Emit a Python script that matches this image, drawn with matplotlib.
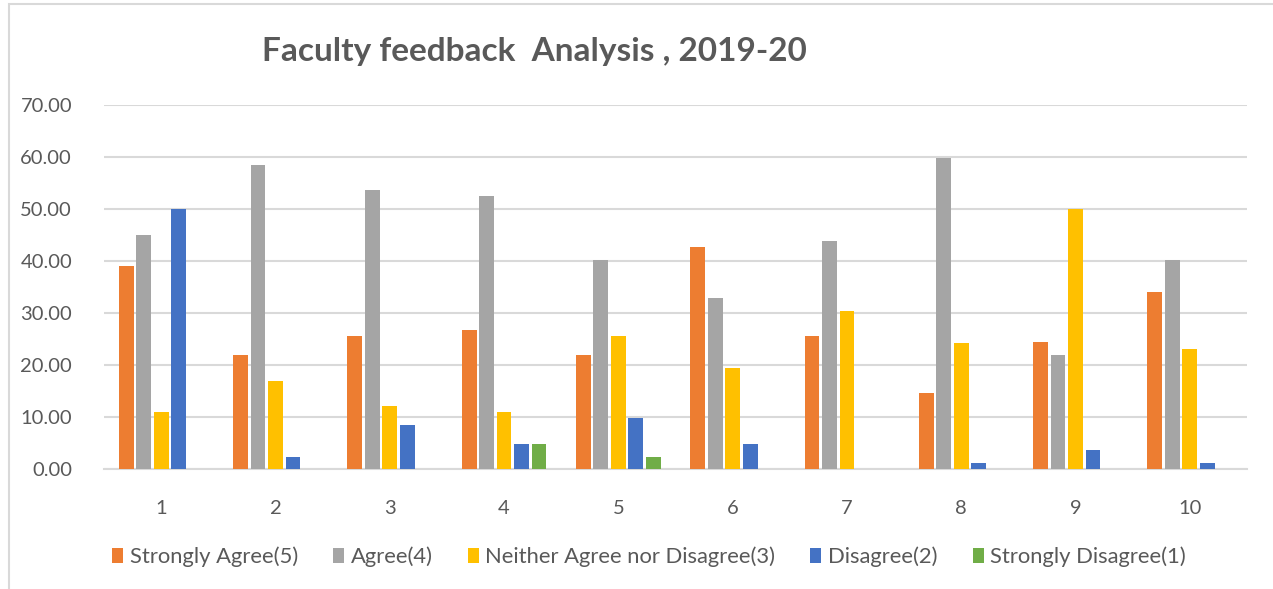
import matplotlib
matplotlib.use("Agg")
import matplotlib.pyplot as plt
import numpy as np
from matplotlib.patches import Rectangle

# data
questions = ["1", "2", "3", "4", "5", "6", "7", "8", "9", "10"]
strongly_agree = [39.0, 22.0, 25.6, 26.8, 22.0, 42.7, 25.6, 14.7, 24.5, 34.1]
agree = [45.0, 58.5, 53.7, 52.5, 40.2, 32.9, 43.9, 59.8, 22.0, 40.2]
neither = [11.0, 17.0, 12.1, 11.0, 25.6, 19.5, 30.4, 24.3, 50.0, 23.1]
disagree = [50.0, 2.4, 8.5, 4.9, 9.8, 4.9, 0.0, 1.2, 3.6, 1.2]
strongly_disagree = [0.0, 0.0, 0.0, 4.9, 2.4, 0.0, 0.0, 0.0, 0.0, 0.0]

series = [
    ("Strongly Agree(5)", strongly_agree, "#ED7D31"),
    ("Agree(4)", agree, "#A5A5A5"),
    ("Neither Agree nor Disagree(3)", neither, "#FFC000"),
    ("Disagree(2)", disagree, "#4472C4"),
    ("Strongly Disagree(1)", strongly_disagree, "#70AD47"),
]

TEXT = "#595959"; GRID = "#D9D9D9"
plt.rcParams["font.family"] = ["Lato", "DejaVu Sans"]

fig = plt.figure(figsize=(12.73, 5.89), dpi=100)
ax = fig.add_axes([104 / 1273, 1 - 469 / 589, 1143 / 1273, 364 / 589])

x = np.arange(len(questions))
slot = 0.153; width = 0.13
for i, (label, vals, color) in enumerate(series):
    ax.bar(x + (i - 2) * slot, vals, width=width, color=color, label=label, zorder=3)

ax.set_xlim(-0.5, len(questions) - 0.5)
ax.set_ylim(0, 70)
ax.set_yticks(np.arange(0, 71, 10))
ax.yaxis.set_major_formatter(matplotlib.ticker.FormatStrFormatter("%.2f"))
ax.set_xticks(x, questions)
ax.tick_params(axis="both", length=0, labelsize=14.5, labelcolor=TEXT)
ax.tick_params(axis="x", pad=22)
ax.tick_params(axis="y", pad=23)
ax.grid(axis="y", color=GRID, linewidth=1.5, zorder=0)
for s in ["top", "right", "left"]:
    ax.spines[s].set_visible(False)
ax.spines["bottom"].set_color(GRID); ax.spines["bottom"].set_linewidth(1.5)

fig.text(534 / 1273, 1 - 51 / 589, "Faculty feedback  Analysis , 2019-20", ha="center", va="center",
         fontsize=24, fontweight="bold", color=TEXT)

fig.legend(loc="center", bbox_to_anchor=(649 / 1273, 1 - 557 / 589), ncol=5, frameon=False,
           fontsize=15.8, labelcolor=TEXT, handlelength=0.5, handleheight=0.7,
           handletextpad=0.3, columnspacing=1.6)

# light chart-area border
fig.patches.append(Rectangle((9 / 1273, -0.01), 1.02, 1 - 4 / 589 + 0.01, transform=fig.transFigure,
                             fill=False, edgecolor=GRID, linewidth=1.5))

fig.savefig("out.png", dpi=100)
